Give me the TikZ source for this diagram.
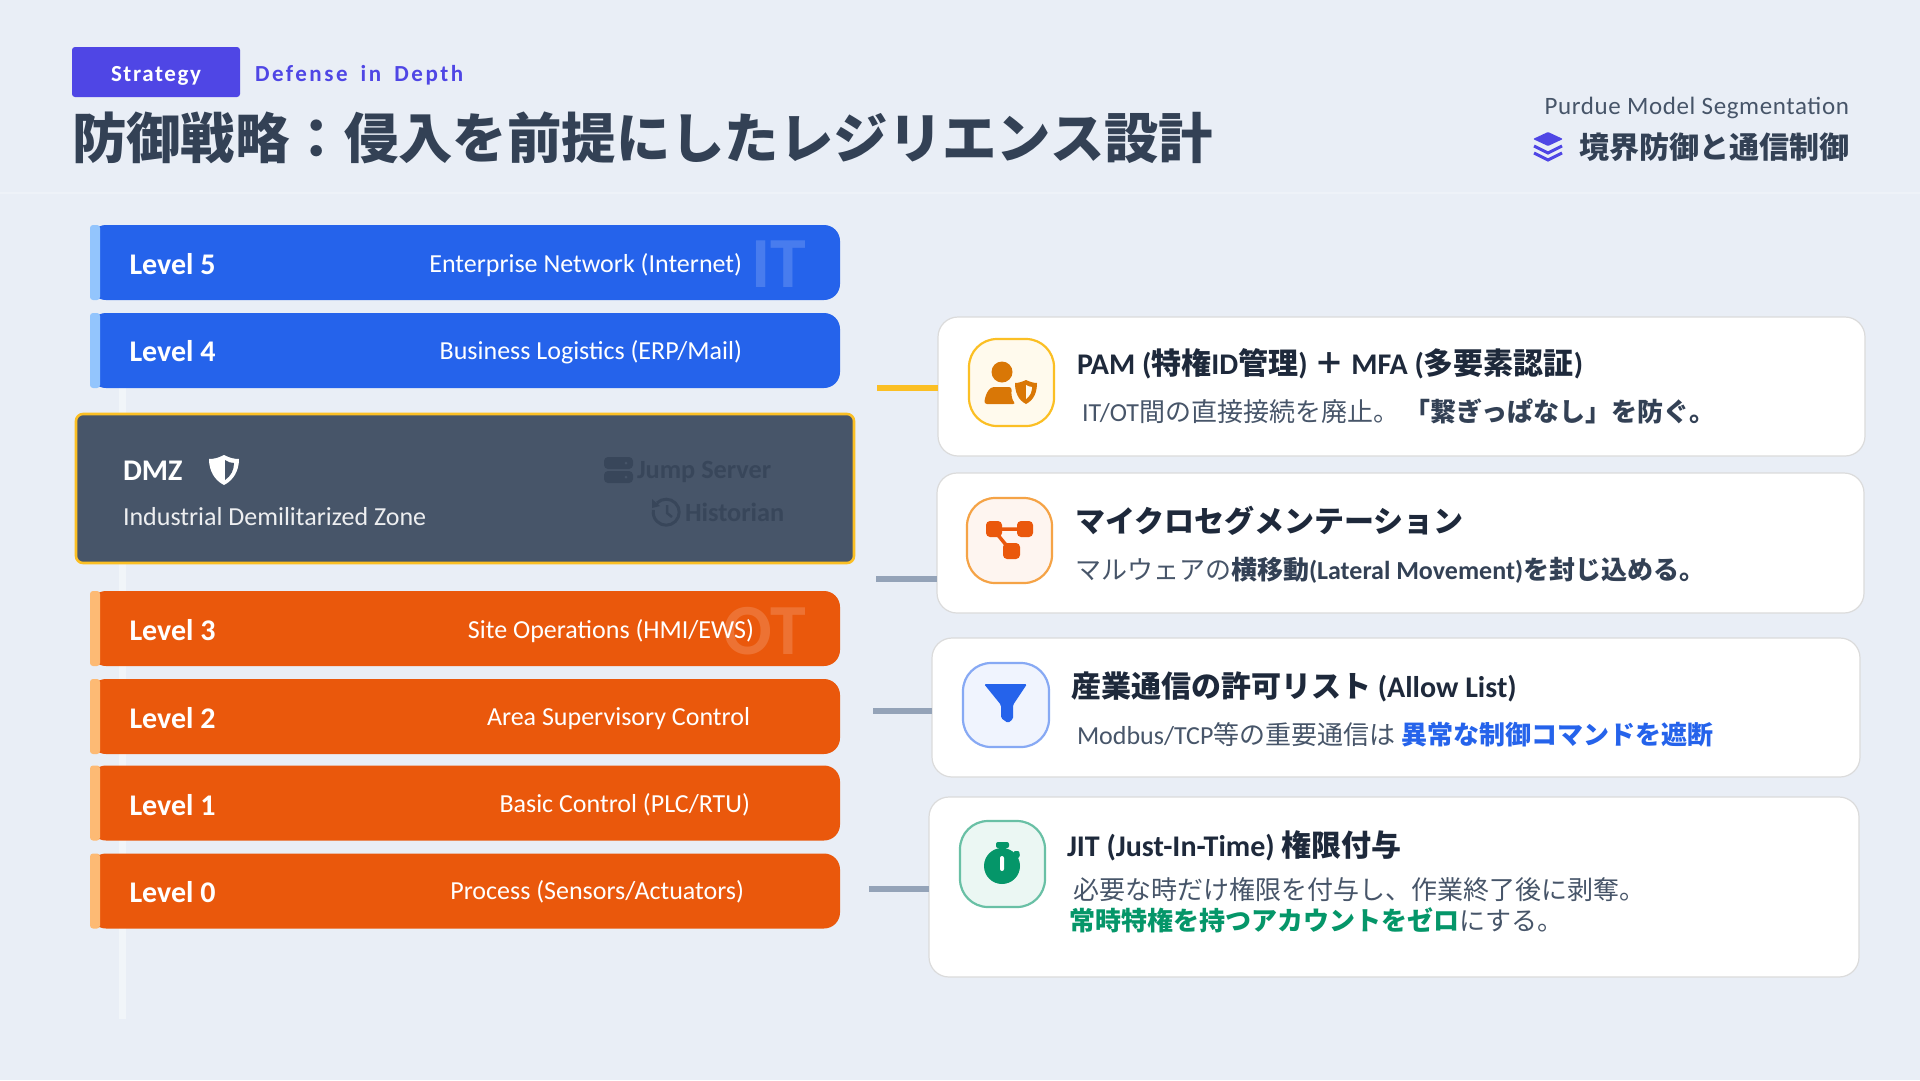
\documentclass[tikz,border=0pt]{standalone}
\usepackage{fontspec}
\setmainfont{Carlito}
\newfontfamily\jpfont{Noto Sans CJK JP}
\newfontfamily\trackfont[LetterSpace=7]{Carlito}
\newfontfamily\widefont[LetterSpace=11,WordSpace=1.7]{Carlito}
\newfontfamily\slightfont[LetterSpace=2.5]{Carlito}
\newcommand{\jp}[1]{{\jpfont #1}}
\newcommand{\px}[1]{\fontsize{#1}{#1}\selectfont}
\definecolor{pagebg}{HTML}{E9EEF6}
\definecolor{ruleline}{HTML}{F1F5F9}
\definecolor{indigo}{HTML}{4F46E5}
\definecolor{slatedark}{HTML}{334155}
\definecolor{slatemid}{HTML}{475569}
\definecolor{slateink}{HTML}{1E293B}
\definecolor{slategrey}{HTML}{94A3B8}
\definecolor{itblue}{HTML}{2563EB}
\definecolor{itlight}{HTML}{93C5FD}
\definecolor{otorange}{HTML}{EA580C}
\definecolor{otlight}{HTML}{FDBA74}
\definecolor{amberline}{HTML}{FBBF24}
\definecolor{amberdark}{HTML}{D97706}
\definecolor{greendark}{HTML}{059669}
\usetikzlibrary{positioning}
\begin{document}
\begin{tikzpicture}[
  x=1pt, y=-1pt, inner sep=0pt, outer sep=0pt,
  bar/.style={rounded corners=16pt, minimum width=750pt, minimum height=75pt},
  itbar/.style={bar, fill=itblue},
  otbar/.style={bar, fill=otorange},
  lvlname/.style={anchor=base west, text=white, font=\px{30}\bfseries},
  lvldesc/.style={anchor=base east, text=white, font=\px{26}},
  wmark/.style={anchor=base east, text=white, text opacity=.16, font=\px{72}\bfseries},
  dmzgrey/.style={anchor=base west, text=slatedark, text opacity=.75, font=\px{26.3}\bfseries},
  dmzicon/.style={slatedark, opacity=.75},
  card/.style={draw=black!14, fill=white, line width=1.2pt, rounded corners=20pt},
  iconbox/.style={line width=2.2pt, rounded corners=28pt},
  stub/.style={line width=5.5pt},
  cardtitle/.style={anchor=base west, text=slateink, font=\px{30}\bfseries},
  cardbody/.style={anchor=base west, text=slatemid, font=\px{26}}
]
  \path[use as bounding box, fill=pagebg] (0,0) rectangle (1920,1080);
  \fill[ruleline!60!pagebg] (0,192) rectangle (1920,194);
  \fill[ruleline] (119,388) rectangle (126,1019);

  \node[anchor=north west, fill=indigo, rounded corners=3pt, minimum width=168pt, minimum height=50pt] (badge) at (72,47) {};
  \node[anchor=base, text=white, font=\px{23}\bfseries\trackfont] (strategy) at (badge.center |- 0,81) {Strategy};
  \node[anchor=base west, text=indigo, font=\px{23}\bfseries\widefont] (depth) at (255,81) {Defense in Depth};
  \node[anchor=base west, text=slatedark, font=\px{54.4}\bfseries\jpfont] (title) at (72,158) {防御戦略：侵入を前提にしたレジリエンス設計};
  \node[anchor=base east, text=slatemid, font=\px{25}\slightfont] (purdue) at (1849,114) {Purdue Model Segmentation};
  \node[anchor=base east, text=slatedark, font=\px{30}\bfseries\jpfont] (border) at (1849,158) {境界防御と通信制御};
  \fill[indigo, rounded corners=1pt] (1548,132) -- (1563,139) -- (1548,146) -- (1533,139) -- cycle;
  \draw[indigo, line width=3pt] (1534,146) -- (1548,153) -- (1562,146);
  \draw[indigo, line width=3pt] (1534,153) -- (1548,160) -- (1562,153);

  \node[itbar, anchor=north west] (lvl5) at (90,225) {};
  \node[itbar, below=13pt of lvl5] (lvl4) {};
  \node[otbar, anchor=north west] (lvl3) at (90,591) {};
  \node[otbar, below=13pt of lvl3] (lvl2) {};
  \node[otbar, below=11.5pt of lvl2] (lvl1) {};
  \node[otbar, below=13pt of lvl1] (lvl0) {};
  \fill[itlight, rounded corners=3pt] (lvl5.north west) rectangle ([xshift=10pt]lvl5.south west);
  \fill[itlight, rounded corners=3pt] (lvl4.north west) rectangle ([xshift=10pt]lvl4.south west);
  \fill[otlight, rounded corners=3pt] (lvl3.north west) rectangle ([xshift=10pt]lvl3.south west);
  \fill[otlight, rounded corners=3pt] (lvl2.north west) rectangle ([xshift=10pt]lvl2.south west);
  \fill[otlight, rounded corners=3pt] (lvl1.north west) rectangle ([xshift=10pt]lvl1.south west);
  \fill[otlight, rounded corners=3pt] (lvl0.north west) rectangle ([xshift=10pt]lvl0.south west);

  \node[wmark] (itmark) at (806,287) {IT};
  \node[wmark] (otmark) at (806,654) {OT};
  \node[lvlname] (name5) at (129.5,274) {Level 5};
  \node[lvlname] (name4) at (129.5,361.5) {Level 4};
  \node[lvlname] (name3) at (129.5,640) {Level 3};
  \node[lvlname] (name2) at (129.5,728) {Level 2};
  \node[lvlname] (name1) at (129.5,815) {Level 1};
  \node[lvlname] (name0) at (129.5,902) {Level 0};
  \node[lvldesc] (desc5) at (742,272) {Enterprise Network (Internet)};
  \node[lvldesc] (desc4) at (742,359.5) {Business Logistics (ERP/Mail)};
  \node[lvldesc] (desc3) at (754,638) {Site Operations (HMI/EWS)};
  \node[lvldesc] (desc2) at (750,725.5) {Area Supervisory Control};
  \node[lvldesc] (desc1) at (750,812.5) {Basic Control (PLC/RTU)};
  \node[lvldesc] (desc0) at (744,899) {Process (Sensors/Actuators)};

  \node[anchor=north west, draw=amberline, fill=slatemid, line width=2.6pt, rounded corners=7pt, minimum width=778pt, minimum height=149pt] (dmz) at (76,414) {};
  \node[anchor=base west, text=white, font=\px{30}\bfseries] (dmzname) at (123,480) {DMZ};
  \node[anchor=base west, text=white!90!slatemid, font=\px{26}] (dmzdesc) at (123,525) {Industrial Demilitarized Zone};
  \fill[white] (224,455) .. controls (230,458) and (234,459) .. (239,459) .. controls (239,470) and (234,480) .. (224,485) .. controls (214,480) and (209,470) .. (209,459) .. controls (214,459) and (218,458) .. (224,455) -- cycle;
  \fill[slatemid] (225,460) .. controls (228,462) and (231,463) .. (234,463) .. controls (234,470) and (231,476) .. (225,480) -- cycle;
  \node[dmzgrey] (jump) at (637,478) {Jump Server};
  \node[dmzgrey] (historian) at (685,521) {Historian};
  \fill[dmzicon, rounded corners=4pt] (604,457) rectangle (633,469);
  \fill[dmzicon, rounded corners=4pt] (604,471) rectangle (633,483);
  \fill[slatemid] (626,463) circle[radius=1.5pt] (626,477) circle[radius=1.5pt];
  \draw[dmzicon, line width=3pt] (657,503) arc[start angle=135, end angle=-190, radius=13pt];
  \draw[dmzicon, line width=2.5pt] (667,505) -- (667,513) -- (672,517);
  \fill[dmzicon] (652,499) -- (660,506) -- (652,508) -- cycle;

  \node[card, anchor=north west, minimum width=927pt, minimum height=139pt] (pam) at (938,317) {};
  \node[card, anchor=north west, minimum width=927pt, minimum height=140pt] (micro) at (937,473) {};
  \node[card, anchor=north west, minimum width=928pt, minimum height=139pt] (allow) at (932,638) {};
  \node[card, anchor=north west, minimum width=930pt, minimum height=180pt] (jit) at (929,797) {};

  \coordinate (stubpam) at (877,388);
  \coordinate (stubmicro) at (876,579);
  \coordinate (stuballow) at (873,711);
  \coordinate (stubjit) at (869,889);
  \draw[stub, amberline] (stubpam) -- (stubpam -| pam.west);
  \draw[stub, slategrey] (stubmicro) -- (stubmicro -| micro.west);
  \draw[stub, slategrey] (stuballow) -- (stuballow -| allow.west);
  \draw[stub, slategrey] (stubjit) -- (stubjit -| jit.west);

  \draw[iconbox, draw=amberline, fill=amberline!8] (969,339) rectangle (1054,426);
  \fill[amberdark] (1002,372) circle[radius=10.5pt];
  \fill[amberdark, rounded corners=3pt] (984,404) .. controls (986,392) and (990,387) .. (997,387) -- (1012,387) .. controls (1011,394) and (1012,400) .. (1016,404) -- cycle;
  \fill[amberdark] (1026,380) .. controls (1030,382) and (1034,383) .. (1037,383) .. controls (1037,392) and (1034,400) .. (1026,404) .. controls (1018,400) and (1015,392) .. (1015,383) .. controls (1018,383) and (1022,382) .. (1026,380) -- cycle;
  \fill[amberline!8] (1026,385) .. controls (1028,386) and (1030,387) .. (1032,387) .. controls (1032,392) and (1030,396) .. (1026,399) -- cycle;

  \draw[iconbox, draw=otorange!50!amberline!80!white, fill=otorange!6] (967,498) rectangle (1052,583);
  \draw[otorange, line width=3.5pt] (993,529) -- (1025,529) (993,529) -- (1011,551);
  \fill[otorange, rounded corners=4pt] (986,521) rectangle (1002,537);
  \fill[otorange, rounded corners=4pt] (1017,521) rectangle (1033,537);
  \fill[otorange, rounded corners=4pt] (1003,543) rectangle (1020,559);

  \draw[iconbox, draw=itblue!55!white, fill=itblue!7] (963,663) rectangle (1049,747);
  \fill[itblue, rounded corners=1.5pt] (984,684) -- (1027,684) -- (1013,705) -- (1013,719) -- (1008,723) -- (1001,718) -- (1001,705) -- cycle;

  \draw[iconbox, draw=greendark!60!white, fill=greendark!8] (960,821) rectangle (1045,907);
  \fill[greendark] (1002,866) circle[radius=18pt];
  \fill[greendark, rounded corners=2pt] (996,842) rectangle (1009,848);
  \fill[greendark] (999,846) rectangle (1006,852);
  \fill[greendark, rounded corners=1pt] (1014,851) -- (1019,851) -- (1020,856) -- (1017,859) -- (1013,856) -- cycle;
  \fill[white, rounded corners=2pt] (1000,856) rectangle (1004,871);

  \node[cardtitle] (pamtitle) at (1077,374) {PAM (\jp{特権}ID\jp{管理}) \jp{＋} MFA (\jp{多要素認証})};
  \node[cardbody] (pambody) at (1082,421) {IT/OT\jp{間の直接接続を廃止。} \textcolor{slatedark}{\bfseries\jp{「繋ぎっぱなし」を防ぐ。}}};
  \node[cardtitle] (microtitle) at (1075,532) {\jp{マイクロセグメンテーション}};
  \node[cardbody] (microbody) at (1075,579) {\jp{マルウェアの}\textcolor{slatedark}{\bfseries\jp{横移動}(Lateral Movement)\jp{を封じ込める。}}};
  \node[cardtitle] (allowtitle) at (1071,697) {\jp{産業通信の許可リスト} (Allow List)};
  \node[cardbody] (allowbody) at (1077,744) {Modbus/TCP\jp{等の重要通信は} \textcolor{itblue}{\bfseries\jp{異常な制御コマンドを遮断}}};
  \node[cardtitle] (jittitle) at (1067,856) {JIT (Just-In-Time) \jp{権限付与}};
  \node[cardbody] (jitbody) at (1073,899) {\jp{必要な時だけ権限を付与し、作業終了後に剥奪。}};
  \node[cardbody] (jitzero) at (1069,930) {\textcolor{greendark}{\bfseries\jp{常時特権を持つアカウントをゼロ}}\jp{にする。}};
\end{tikzpicture}
\end{document}
